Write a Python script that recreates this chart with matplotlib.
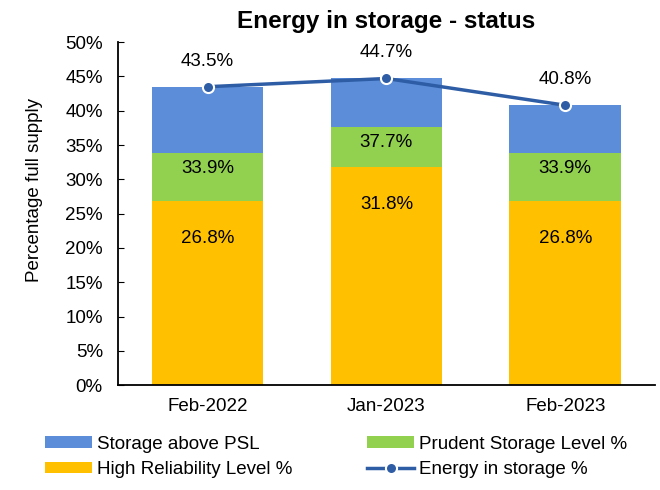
import matplotlib.pyplot as plt
import numpy as np

plt.rcParams['font.family'] = ['Liberation Sans', 'DejaVu Sans']

months = ["Feb-2022", "Jan-2023", "Feb-2023"]
high_rel = [26.8, 31.8, 26.8]        # High Reliability Level %
prudent = [33.9, 37.7, 33.9]         # Prudent Storage Level % (cumulative)
energy = [43.5, 44.7, 40.8]          # Energy in storage %

c_above = "#5B8DD9"
c_psl = "#92D050"
c_hrl = "#FFC000"
c_line = "#2E5DA6"

fig = plt.figure(figsize=(6.6, 4.9), dpi=100)
ax = fig.add_axes([0.179, 0.214, 0.813, 0.70])

x = np.arange(len(months))
hrl = np.array(high_rel)
psl_seg = np.array(prudent) - hrl
above_seg = np.array(energy) - np.array(prudent)
w = 0.625

b_hrl = ax.bar(x, hrl, w, color=c_hrl, label="High Reliability Level %")
b_psl = ax.bar(x, psl_seg, w, bottom=hrl, color=c_psl, label="Prudent Storage Level %")
b_above = ax.bar(x, above_seg, w, bottom=np.array(prudent), color=c_above, label="Storage above PSL")
ln, = ax.plot(x, energy, color=c_line, lw=2.5, marker="o", ms=8, mfc=c_line, mec="white", mew=1.5,
              label="Energy in storage %")

fs = 13.5
for i in range(len(x)):
    ax.annotate(f"{high_rel[i]:.1f}%", (x[i], high_rel[i]), xytext=(0, -27), textcoords="offset points",
                ha="center", va="center", fontsize=fs)
    ax.annotate(f"{prudent[i]:.1f}%", (x[i], prudent[i]), xytext=(0, -11.5), textcoords="offset points",
                ha="center", va="center", fontsize=fs)
    ax.annotate(f"{energy[i]:.1f}%", (x[i], energy[i]), xytext=(0, 18.5), textcoords="offset points",
                ha="center", va="center", fontsize=fs)

ax.set_xlim(-0.5, 2.5)
ax.set_ylim(0, 50)
ax.set_yticks(np.arange(0, 51, 5))
ax.set_yticklabels([f"{v}%" for v in range(0, 51, 5)])
ax.set_xticks(x)
ax.set_xticklabels(months)
ax.tick_params(axis="x", labelsize=fs, length=0, pad=9)
ax.tick_params(axis="y", labelsize=fs, length=4, direction="in", pad=11)
for s in ["top", "right"]:
    ax.spines[s].set_visible(False)
ax.spines["left"].set_linewidth(1.3)
ax.spines["bottom"].set_linewidth(1.3)

ax.set_ylabel("Percentage full supply", fontsize=fs)
ax.yaxis.set_label_coords(-0.14, 0.57)
ax.set_title("Energy in storage - status", fontsize=17.5, fontweight="bold", pad=10)

# column-wise fill: col1 = above, hrl ; col2 = psl, line
fig.legend([b_above, b_hrl, b_psl, ln],
           ["Storage above PSL", "High Reliability Level %", "Prudent Storage Level %", "Energy in storage %"],
           ncol=2, loc="lower left", bbox_to_anchor=(0.043, -0.01), frameon=False, fontsize=fs,
           handlelength=2.5, handleheight=0.55, handletextpad=0.25, columnspacing=4.0, labelspacing=0.45)

fig.savefig("out.png", dpi=100)
